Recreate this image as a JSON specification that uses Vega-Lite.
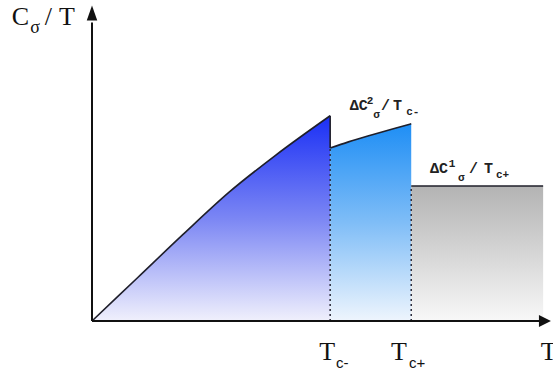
{
  "$schema": "https://vega.github.io/schema/vega-lite/v6.json",
  "autosize": {"type": "none"},
  "padding": {"left": 92, "top": 10, "right": 3, "bottom": 56},
  "width": 458,
  "height": 311,
  "background": "white",
  "config": {"view": {"stroke": null}},
  "datasets": {
    "curve": [
      {"seg": 1, "x": 0, "y": 0},
      {"seg": 1, "x": 10, "y": 14},
      {"seg": 1, "x": 20, "y": 28},
      {"seg": 1, "x": 30, "y": 41.5},
      {"seg": 1, "x": 40, "y": 53.2},
      {"seg": 1, "x": 52, "y": 66},
      {"seg": 2, "x": 52, "y": 55.6},
      {"seg": 2, "x": 56, "y": 57.6},
      {"seg": 2, "x": 61, "y": 59.8},
      {"seg": 2, "x": 66, "y": 61.9},
      {"seg": 2, "x": 69.7, "y": 63.4},
      {"seg": 3, "x": 69.7, "y": 43.4},
      {"seg": 3, "x": 98.5, "y": 43.4}
    ],
    "drops": [
      {"x": 52, "y": 0, "y2": 55.6},
      {"x": 69.7, "y": 0, "y2": 43.4}
    ],
    "edges": [
      {"x": 52, "x2": 52, "y": 55.6, "y2": 66}
    ],
    "axes": [
      {"x": 0, "x2": 98, "y": 0, "y2": 0},
      {"x": 0, "x2": 0, "y": 0, "y2": 96}
    ],
    "arrowUp": [{"x": 0, "y": 99}],
    "arrowRight": [{"x": 98.9, "y": 0}],
    "labels": [
      {"g": "big", "t": "C", "x": -17.5, "y": 95.2},
      {"g": "big", "t": "/", "x": -10.3, "y": 95.2},
      {"g": "big", "t": "T", "x": -7.2, "y": 95.2},
      {"g": "big", "t": "T", "x": 49.6, "y": -12.5},
      {"g": "big", "t": "T", "x": 65.3, "y": -12.5},
      {"g": "big", "t": "T", "x": 98, "y": -12.5},
      {"g": "sigma", "t": "σ", "x": -13.5, "y": 92.6},
      {"g": "sub", "t": "c-", "x": 53.3, "y": -15.1},
      {"g": "sub", "t": "c+", "x": 69.2, "y": -15.1},
      {"g": "mono", "t": "ΔC", "x": 56.3, "y": 67.8},
      {"g": "mono", "t": "/", "x": 63.1, "y": 67.8},
      {"g": "mono", "t": "T", "x": 65.7, "y": 67.8},
      {"g": "mono", "t": "ΔC", "x": 73.8, "y": 47.6},
      {"g": "mono", "t": "/", "x": 82.3, "y": 47.6},
      {"g": "mono", "t": "T", "x": 85.6, "y": 47.6},
      {"g": "small", "t": "2", "x": 60.0, "y": 69.8},
      {"g": "small", "t": "σ", "x": 61.4, "y": 65.3},
      {"g": "small", "t": "c-", "x": 68.6, "y": 66.2},
      {"g": "small", "t": "1", "x": 77.9, "y": 49.5},
      {"g": "small", "t": "σ", "x": 79.9, "y": 45.0},
      {"g": "small", "t": "c+", "x": 88.2, "y": 46.0}
    ]
  },
  "encoding": {
    "x": {"field": "x", "type": "quantitative", "scale": {"domain": [0, 100], "nice": false, "zero": false}, "axis": null},
    "y": {"field": "y", "type": "quantitative", "scale": {"domain": [0, 100], "nice": false, "zero": false}, "axis": null}
  },
  "layer": [
    {
      "data": {"name": "curve"},
      "transform": [{"filter": "datum.seg == 1"}],
      "mark": {"type": "area", "interpolate": "monotone",
        "color": {"gradient": "linear", "x1": 0, "y1": 0, "x2": 0, "y2": 1,
          "stops": [{"offset": 0, "color": "#1a2ff5"}, {"offset": 0.5, "color": "#7b86f4"}, {"offset": 1, "color": "#f0f0fc"}]}}
    },
    {
      "data": {"name": "curve"},
      "transform": [{"filter": "datum.seg == 2"}],
      "mark": {"type": "area", "interpolate": "monotone",
        "color": {"gradient": "linear", "x1": 0, "y1": 0, "x2": 0, "y2": 1,
          "stops": [{"offset": 0, "color": "#1e8ef5"}, {"offset": 0.5, "color": "#7fbdf7"}, {"offset": 1, "color": "#eef5fd"}]}}
    },
    {
      "data": {"name": "curve"},
      "transform": [{"filter": "datum.seg == 3"}],
      "mark": {"type": "area",
        "color": {"gradient": "linear", "x1": 0, "y1": 0, "x2": 0, "y2": 1,
          "stops": [{"offset": 0, "color": "#b3b3b3"}, {"offset": 1, "color": "#f8f8f8"}]}}
    },
    {
      "data": {"name": "drops"},
      "mark": {"type": "rule", "color": "#2a2a3a", "strokeWidth": 1.5, "strokeDash": [2, 3]},
      "encoding": {"y2": {"field": "y2"}}
    },
    {
      "data": {"name": "curve"},
      "mark": {"type": "line", "interpolate": "monotone", "color": "#1f1f2a", "strokeWidth": 1.6},
      "encoding": {"detail": {"field": "seg", "type": "nominal"}}
    },
    {
      "data": {"name": "edges"},
      "mark": {"type": "rule", "color": "#1f1f2a", "strokeWidth": 1.6},
      "encoding": {"x2": {"field": "x2"}, "y2": {"field": "y2"}}
    },
    {
      "data": {"name": "axes"},
      "mark": {"type": "rule", "color": "#111111", "strokeWidth": 2},
      "encoding": {"x2": {"field": "x2"}, "y2": {"field": "y2"}}
    },
    {
      "data": {"name": "arrowUp"},
      "mark": {"type": "point", "shape": "M-0.7,1L0,-1L0.7,1Z", "size": 225, "filled": true, "color": "#111111", "opacity": 1}
    },
    {
      "data": {"name": "arrowRight"},
      "mark": {"type": "point", "shape": "M-1,-1L1,0L-1,1Z", "size": 144, "filled": true, "color": "#111111", "opacity": 1}
    },
    {
      "data": {"name": "labels"},
      "transform": [{"filter": "datum.g == 'big'"}],
      "mark": {"type": "text", "font": "Liberation Serif", "fontSize": 26, "align": "left", "baseline": "alphabetic", "color": "#111111"},
      "encoding": {"text": {"field": "t"}}
    },
    {
      "data": {"name": "labels"},
      "transform": [{"filter": "datum.g == 'sigma'"}],
      "mark": {"type": "text", "font": "Liberation Serif", "fontSize": 18, "align": "left", "baseline": "alphabetic", "color": "#111111"},
      "encoding": {"text": {"field": "t"}}
    },
    {
      "data": {"name": "labels"},
      "transform": [{"filter": "datum.g == 'sub'"}],
      "mark": {"type": "text", "font": "Liberation Sans", "fontSize": 15, "align": "left", "baseline": "alphabetic", "color": "#111111"},
      "encoding": {"text": {"field": "t"}}
    },
    {
      "data": {"name": "labels"},
      "transform": [{"filter": "datum.g == 'mono'"}],
      "mark": {"type": "text", "font": "Liberation Mono", "fontSize": 15, "fontWeight": "bold", "align": "left", "baseline": "alphabetic", "color": "#222222"},
      "encoding": {"text": {"field": "t"}}
    },
    {
      "data": {"name": "labels"},
      "transform": [{"filter": "datum.g == 'small'"}],
      "mark": {"type": "text", "font": "Liberation Mono", "fontSize": 11, "fontWeight": "bold", "align": "left", "baseline": "alphabetic", "color": "#222222"},
      "encoding": {"text": {"field": "t"}}
    }
  ]
}
